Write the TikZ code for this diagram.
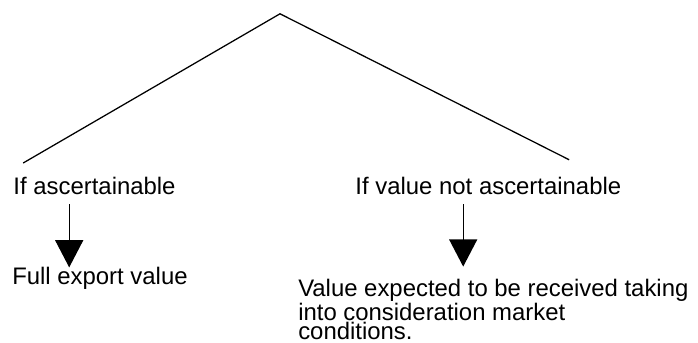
\documentclass[tikz,border=0pt]{standalone}
\usepackage{fontspec}
\setmainfont{Liberation Sans}
\usepackage{tikz}
\usetikzlibrary{arrows.meta}

\begin{document}
\begin{tikzpicture}[
	txt/.style={black, inner sep=0pt, font=\fontsize{17}{13.7}\selectfont},
	branch/.style={draw=black, line width=0.9pt, solid},
	down/.style={draw=black, line width=0.9pt, -{Triangle[width=0.70cm, length=0.68cm]}}]
	\useasboundingbox (0,0) rectangle (17.45,8.575);
	% tree
	\coordinate (top) at (7.00,8.23);
	\coordinate (leftend) at (0.58,4.50);
	\coordinate (rightend) at (14.23,4.58);
	\draw[branch] (leftend) -- (top) -- (rightend);
	% labels
	\node[txt, anchor=base west] (ifasc) at (0.33,3.70) {If ascertainable};
	\node[txt, anchor=base west] (ifnot) at (8.88,3.70) {If value not ascertainable};
	\node[txt, anchor=base west] (full) at (0.30,1.45) {Full export value};
	\node[txt, anchor=north west, align=left] (expected) at (7.45,1.60) {Value expected to be received taking\\into consideration market\\conditions.};
	% arrows
	\draw[down, shorten <=0.22cm] (ifasc.south -| 1.73,0) -- (full.north -| 1.73,0);
	\draw[down, shorten <=0.22cm, shorten >=0.31cm] (ifnot.south -| 11.58,0) -- (expected.north -| 11.58,0);
\end{tikzpicture}
\end{document}
